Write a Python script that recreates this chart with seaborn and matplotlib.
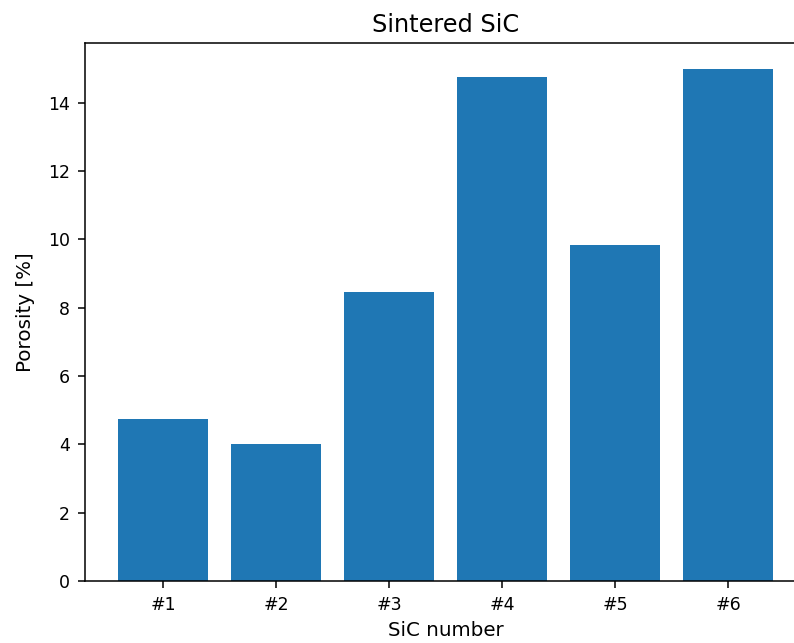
import matplotlib
matplotlib.use("Agg")
import matplotlib.pyplot as plt
import seaborn as sns
import pandas as pd

samples = ["#1", "#2", "#3", "#4", "#5", "#6"]
porosity = [4.73, 4.02, 8.46, 14.76, 9.85, 15.0]

df = pd.DataFrame({"sample": samples, "porosity": porosity})

fig = plt.figure(figsize=(7.94, 6.43), dpi=100)
ax = fig.add_axes([85 / 794, 62 / 643, 721 / 794, 538 / 643])
sns.barplot(data=df, x="sample", y="porosity", color="#1f77b4",
            saturation=1, width=0.8, ax=ax, errorbar=None)
ax.set_xlim(-0.69, 5.69)
ax.set_ylim(0, 15.75)
ax.set_title("Sintered SiC", fontsize=17.3, pad=8)
ax.set_xlabel("SiC number", fontsize=14.3, labelpad=5)
ax.set_ylabel("Porosity [%]", fontsize=14.3, labelpad=9)
ax.tick_params(axis="both", labelsize=12.5, length=5, width=1.1, pad=6)
for s in ax.spines.values():
    s.set_linewidth(1.1)
fig.savefig("out.png", dpi=100)
